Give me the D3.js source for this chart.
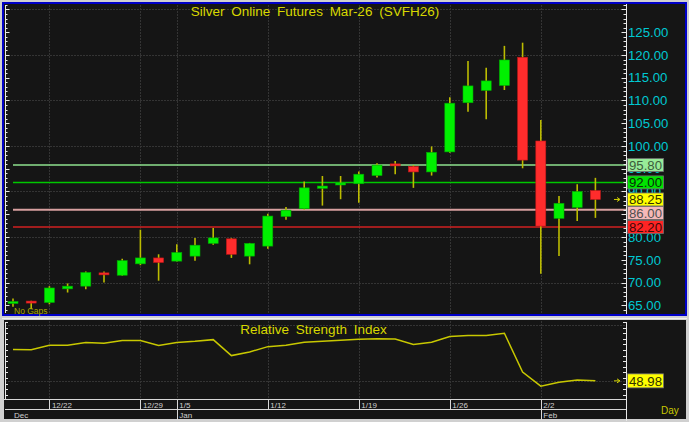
<!DOCTYPE html>
<html><head><meta charset="utf-8">
<script src="https://cdn.jsdelivr.net/npm/d3@7"></script>
<style>body{margin:0;background:#d0d0d0}svg{display:block}text{font-family:Arial,"Liberation Sans",sans-serif}</style>
</head><body><div id="c"></div>
<script>
const dates = ["12/18","12/19","12/22","12/23","12/24","12/25","12/26","12/29","12/31","1/5","1/6","1/7","1/8","1/9","1/12","1/13","1/14","1/15","1/16","1/19","1/20","1/21","1/22","1/23","1/26","1/27","1/28","1/29","1/30","2/2","2/3","2/4","2/5"];
const open  = [65.5,65.8,65.6,68.6,69.2,72.0,71.6,74.1,75.4,74.7,75.8,78.6,79.6,75.8,78.0,84.5,86.2,90.7,91.5,91.7,93.5,96.0,95.5,94.3,98.7,109.5,112.2,113.3,119.5,101.1,84.1,86.5,90.2];
const high  = [66.5,66.0,69.2,69.8,72.4,72.4,75.2,81.6,76.2,78.4,79.8,82.0,79.8,78.7,85.1,86.6,92.2,93.4,93.4,94.4,96.2,96.7,95.8,99.9,110.7,118.7,117.2,122.0,122.7,105.7,89.0,91.6,93.0];
const low   = [64.7,64.1,65.2,67.8,68.5,70.0,71.5,73.8,70.4,74.6,74.8,78.3,75.4,74.0,77.4,83.8,86.0,86.9,88.3,87.5,93.1,93.8,90.8,93.5,98.5,107.5,105.9,112.3,95.1,71.9,75.8,83.5,84.2];
const close = [65.7,65.6,68.8,69.2,72.2,71.8,74.8,75.4,74.4,76.6,78.2,79.8,76.2,78.6,84.6,85.9,90.8,91.2,91.8,93.8,95.8,95.7,94.3,98.6,109.4,113.2,114.3,118.9,96.9,82.4,87.4,90.0,88.25];
const rsi   = [60.2,60.1,61.7,61.7,62.7,62.4,63.4,63.4,61.6,62.7,63.1,63.7,58.0,59.3,61.2,61.7,62.8,63.1,63.5,63.8,64.0,63.9,62.0,62.8,64.8,65.2,65.2,66.0,52.1,47.1,48.5,49.3,48.98];
const levels = [95.8, 92.0, 86.0, 82.2];
const levelColors = ["#8ee08e","#00c800","#d8a0a0","#d02020"];
const levelFills = ["#98ec98","#00e400","#f6b8b8","#ff2424"];
const levelText = ["#3c5c3c","#0a2a0a","#505050","#400808"];
const priceTicks = [65,70,75,80,85,90,95,100,105,110,115,120,125];
const priceGrid = [70,80,90,100,110,120,130];
const weekLabels = ["12/22","12/29","1/5","1/12","1/19","1/26","2/2"];
const monthLabels = [["12/18","Dec"],["1/5","Jan"],["2/2","Feb"]];
const rsiGrid = [49, 69];
const titleText = "Silver Online Futures Mar-26 (SVFH26)";
const rsiTitle = "Relative Strength Index";

const W=689,H=422;
const svg=d3.select("#c").append("svg").attr("width",W).attr("height",H);
svg.append("rect").attr("width",W).attr("height",H).attr("fill","#d0d0d0");

// panels
svg.append("rect").attr("x",3).attr("y",3).attr("width",683).attr("height",312).attr("fill","#151515").attr("stroke","#0000c8").attr("stroke-width",2);
svg.append("line").attr("x1",2).attr("x2",687).attr("y1",318.5).attr("y2",318.5).attr("stroke","#f0f0f0");
svg.append("rect").attr("x",4).attr("y",320).attr("width",682).attr("height",99).attr("fill","#151515");

const x=d3.scalePoint().domain(dates).range([13,595.4]);
const y=d3.scaleLinear().domain([63.3,131.2]).range([313,4]);
const yr=d3.scaleLinear().domain([42.5,70]).range([399,322]);
const AX=626, LX=5;

const grid=svg.append("g").attr("stroke","#343434").attr("stroke-dasharray","2,1");
grid.selectAll(".hg").data(priceGrid).join("line").attr("x1",LX).attr("x2",AX).attr("y1",d=>Math.round(y(d))+0.5).attr("y2",d=>Math.round(y(d))+0.5);
grid.selectAll(".vg").data(weekLabels).join("line").attr("x1",d=>Math.round(x(d))+0.5).attr("x2",d=>Math.round(x(d))+0.5).attr("y1",5).attr("y2",313);
grid.selectAll(".vr").data(weekLabels).join("line").attr("x1",d=>Math.round(x(d))+0.5).attr("x2",d=>Math.round(x(d))+0.5).attr("y1",321).attr("y2",399);
grid.selectAll(".hr").data(rsiGrid).join("line").attr("x1",LX).attr("x2",AX).attr("y1",d=>Math.round(yr(d))+0.5).attr("y2",d=>Math.round(yr(d))+0.5);

// level lines
svg.append("g").selectAll("line").data(levels).join("line")
  .attr("x1",13).attr("x2",AX).attr("y1",d=>y(d)).attr("y2",d=>y(d))
  .attr("stroke",(d,i)=>levelColors[i]).attr("stroke-width",(d,i)=>i==2?2:1.5);

// candles
const idx=d3.range(dates.length);
const cg=svg.append("g");
cg.selectAll(".w").data(idx).join("line").attr("x1",i=>x(dates[i])).attr("x2",i=>x(dates[i]))
  .attr("y1",i=>y(high[i])).attr("y2",i=>y(low[i])).attr("stroke","#bcbc00").attr("stroke-width",1.6);
cg.selectAll(".b").data(idx).join("rect")
  .attr("x",i=>x(dates[i])-5).attr("width",10)
  .attr("y",i=>{const t=y(Math.max(open[i],close[i])),b=y(Math.min(open[i],close[i]));return b-t<2?(t+b)/2-1:t;})
  .attr("height",i=>Math.max(2,y(Math.min(open[i],close[i]))-y(Math.max(open[i],close[i]))))
  .attr("fill",i=>close[i]>=open[i]?"#00f000":"#ff2c2c")
  .attr("stroke",i=>close[i]>=open[i]?"#00a800":"#c01818").attr("stroke-width",0.6);

// axes main
function ticksAxis(g, scale, x0, dir, vals, major, len1, len2){
  g.selectAll("line").data(vals).join("line")
   .attr("x1",x0).attr("x2",v=>x0+dir*(major(v)?len2:len1))
   .attr("y1",v=>Math.round(scale(v))+0.5).attr("y2",v=>Math.round(scale(v))+0.5)
   .attr("stroke","#e8e8e8");
}
const pv=d3.range(64,132,1);
svg.append("line").attr("x1",AX+0.5).attr("x2",AX+0.5).attr("y1",4).attr("y2",314).attr("stroke","#e8e8e8");
svg.append("line").attr("x1",LX+0.5).attr("x2",LX+0.5).attr("y1",5).attr("y2",313).attr("stroke","#e8e8e8");
ticksAxis(svg.append("g"), y, AX, -1, pv, v=>v%5==0, 2.5, 4.5);
ticksAxis(svg.append("g"), y, LX, 1, pv, v=>v%5==0, 2.5, 4.5);
svg.append("g").selectAll("text").data(priceTicks).join("text")
  .attr("x",628).attr("y",d=>y(d)).attr("dy","0.36em").attr("font-size",13.2).attr("fill","#00c8d2")
  .text(d=>d3.format(".2f")(d));

// level labels with overlap avoidance
const lab=levels.map((v,i)=>({v,fill:levelFills[i],tc:levelText[i]}));
lab.push({v:close[close.length-1],fill:"#ffff00",tc:"#303000"});
lab.sort((a,b)=>y(a.v)-y(b.v));
let prevB=-1e9; const BH=13;
lab.forEach(d=>{let t=y(d.v)-BH/2; if(t<prevB+0.5) t=prevB+0.5; d.top=t; prevB=t+BH;});
const lg=svg.append("g");
lg.selectAll("rect").data(lab).join("rect").attr("x",627.5).attr("y",d=>d.top).attr("width",36).attr("height",BH)
  .attr("fill",d=>d.fill).attr("stroke","#707070").attr("stroke-width",0.8);
lg.selectAll("text").data(lab).join("text").attr("x",629).attr("y",d=>d.top+BH/2).attr("dy","0.37em")
  .attr("font-size",13.2).attr("fill",d=>d.tc).text(d=>d3.format(".2f")(d.v));
function arrow(yy){
  svg.append("path").attr("d",`M${614},${yy}H${619}M${617},${yy-2}L${620},${yy}L${617},${yy+2}`).attr("stroke","#d0d000").attr("fill","none").attr("stroke-width",1);
}
arrow(y(close[close.length-1]));

// titles
svg.append("text").attr("x",315).attr("y",16).attr("text-anchor","middle").attr("font-size",13.5)
  .attr("word-spacing","3px").attr("fill","#d8d800").text(titleText);
svg.append("text").attr("x",14).attr("y",314).attr("font-size",8.5).attr("fill","#a8a800").text("No Gaps");

// RSI panel
svg.append("line").attr("x1",AX+0.5).attr("x2",AX+0.5).attr("y1",322).attr("y2",421).attr("stroke","#e8e8e8");
svg.append("line").attr("x1",LX+0.5).attr("x2",LX+0.5).attr("y1",322).attr("y2",400).attr("stroke","#e8e8e8");
const rv=d3.range(44,71,2);
ticksAxis(svg.append("g"), yr, AX, -1, rv, v=>v%10==0, 3, 3);
ticksAxis(svg.append("g"), yr, LX, 1, rv, v=>v%10==0, 3, 3);
svg.append("text").attr("x",313.5).attr("y",334).attr("text-anchor","middle").attr("font-size",13.5)
  .attr("word-spacing","3px").attr("fill","#d8d800").text(rsiTitle);
svg.append("path").datum(idx).attr("fill","none").attr("stroke","#c8c800").attr("stroke-width",1.5)
  .attr("d",d3.line().x(i=>x(dates[i])).y(i=>yr(rsi[i])));
const rl=rsi[rsi.length-1];
svg.append("rect").attr("x",627.5).attr("y",yr(rl)-7).attr("width",36).attr("height",14).attr("fill","#ffff00").attr("stroke","#707070").attr("stroke-width",0.8);
svg.append("text").attr("x",629).attr("y",yr(rl)).attr("dy","0.37em").attr("font-size",13.2).attr("fill","#303000").text(d3.format(".2f")(rl));
arrow(yr(rl));

// date axis
const da=svg.append("g").attr("stroke","#d8d8d8");
da.append("line").attr("x1",4).attr("x2",AX).attr("y1",399.5).attr("y2",399.5);
da.append("line").attr("x1",5).attr("x2",AX).attr("y1",409.5).attr("y2",409.5);
da.selectAll(".t").data(weekLabels).join("line").attr("x1",d=>Math.round(x(d))+0.5).attr("x2",d=>Math.round(x(d))+0.5)
  .attr("y1",400).attr("y2",d=>monthLabels.some(m=>m[0]==d)?420:409);
svg.append("g").selectAll("text").data(weekLabels).join("text").attr("x",d=>x(d)+2.5).attr("y",408)
  .attr("font-size",8).attr("fill","#d0d0d0").text(d=>d);
svg.append("g").selectAll("text").data(monthLabels).join("text").attr("x",(d,i)=>i==0?14:x(d[0])+2.5).attr("y",418)
  .attr("font-size",8).attr("fill","#d0d0d0").text(d=>d[1]);
svg.append("text").attr("x",661).attr("y",414).attr("font-size",10).attr("fill","#c8c800").text("Day");
</script></body></html>
